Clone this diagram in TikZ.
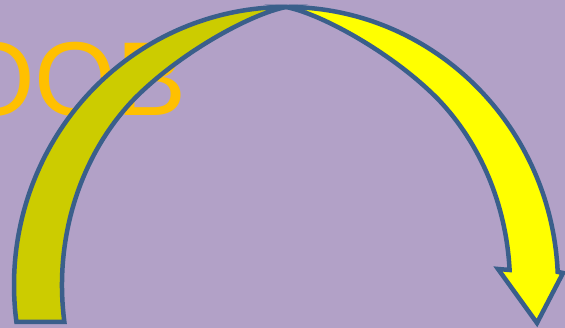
\documentclass[tikz,border=0pt]{standalone}
\usepackage{fontspec}
\setmainfont{Liberation Sans}
\definecolor{bgc}{HTML}{B2A1C7}
\definecolor{edgec}{HTML}{3A5F8B}
\definecolor{leftc}{HTML}{CCCC00}
\definecolor{rightc}{HTML}{FFFF00}
\definecolor{textc}{HTML}{FFC000}
\begin{document}
\begin{tikzpicture}[x=1pt,y=1pt,
  band/.style={draw=edgec, line width=4.5pt, line join=miter}]
\fill[bgc] (0,0) rectangle (565,328);
\useasboundingbox (0,0) rectangle (565,328);
\node[anchor=base west, inner sep=0, text=textc, font=\fontsize{105}{105}\selectfont] (title) at (-47,212) {OOB};
% left crescent
\path[band, fill=leftc] (16.4,6.2)
  arc[start angle=187.6, end angle=90, x radius=272, y radius=278]
  .. controls (250,314) and (178,274) .. (133.2,228)
  arc[start angle=133, end angle=188.4, x radius=224, y radius=253]
  -- cycle;
% right crescent with arrow head
\path[band, fill=rightc] (286,321)
  arc[start angle=90, end angle=2.7, x radius=272, y radius=278]
  -- (563,55) -- (537,5) -- (498,59) -- (509.6,58)
  arc[start angle=3.4, end angle=47, x radius=224, y radius=253]
  .. controls (394,274) and (322,314) .. (286,321)
  -- cycle;
\end{tikzpicture}
\end{document}
